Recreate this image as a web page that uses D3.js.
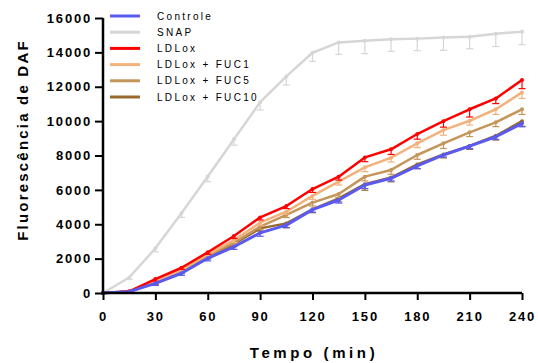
<!DOCTYPE html>
<html><head><meta charset="utf-8">
<script src="https://cdn.jsdelivr.net/npm/d3@7"></script>
<style>body{margin:0;background:#fff}svg{display:block}</style>
</head><body><svg id="c" width="538" height="363"></svg>
<script>
const times = [0,15,30,45,60,75,90,105,120,135,150,165,180,195,210,225,240];
const xTicks = [0,30,60,90,120,150,180,210,240];
const yTicks = [0,2000,4000,6000,8000,10000,12000,14000,16000];
const seriesNames = ["Controle","SNAP","LDLox","LDLox + FUC1","LDLox + FUC5","LDLox + FUC10"];
const seriesColors = ["#5a5af0","#d6d6d6","#ff0000","#f2b27c","#c6955a","#98682c"];
const controle = [0,80,560,1150,2020,2690,3500,3950,4850,5410,6280,6670,7390,8030,8550,9090,9870];
const snap = [0,900,2600,4650,6780,8950,11100,12600,13980,14580,14680,14760,14800,14870,14910,15090,15200];
const ldlox = [0,100,810,1470,2370,3320,4400,5060,6050,6770,7890,8360,9250,10000,10690,11320,12390];
const fuc1 = [0,90,680,1340,2250,3080,4090,4730,5650,6480,7310,7870,8710,9480,10020,10690,11670];
const fuc5 = [0,80,640,1300,2170,2930,3860,4540,5260,5760,6770,7160,8030,8710,9350,9930,10690];
const fuc10 = [0,70,600,1250,2100,2850,3760,4050,4870,5500,6330,6720,7480,8060,8560,9150,10000];
const errControle = [0,60,120,120,150,150,200,150,150,180,200,150,150,120,150,150,200];
const errSnap = [0,100,200,250,300,350,450,500,500,700,750,700,700,750,700,750,750];
const errLdlox = [0,60,120,100,120,150,150,150,200,200,250,300,300,350,450,300,500];
const errFuc1 = [0,60,120,100,120,150,150,150,200,200,250,250,250,300,250,300,350];
const errFuc5 = [0,60,100,100,120,150,150,150,200,200,250,250,250,300,250,250,300];
const errFuc10 = [0,60,100,100,120,150,150,250,200,200,350,250,250,200,200,250,300];

const series = [
  {name:seriesNames[1],color:seriesColors[1],v:snap,e:errSnap,w:2.5},
  {name:seriesNames[5],color:seriesColors[5],v:fuc10,e:errFuc10,w:2.5},
  {name:seriesNames[4],color:seriesColors[4],v:fuc5,e:errFuc5,w:2.5},
  {name:seriesNames[3],color:seriesColors[3],v:fuc1,e:errFuc1,w:2.5},
  {name:seriesNames[2],color:seriesColors[2],v:ldlox,e:errLdlox,w:2.5},
  {name:seriesNames[0],color:seriesColors[0],v:controle,e:errControle,w:3}
];

const svg = d3.select("#c");
const x = d3.scaleLinear().domain([0,240]).range([103,522]);
const y = d3.scaleLinear().domain([0,16000]).range([293,18]);
const font = "Arial, 'Liberation Sans', sans-serif";

// series
const line = d3.line().x((d,i)=>x(times[i])).y(d=>y(d));
series.forEach(s=>{
  const g = svg.append("g");
  s.v.forEach((v,i)=>{
    if(!s.e[i]) return;
    const px=x(times[i]), py=y(v), pe=y(v-s.e[i]);
    g.append("line").attr("x1",px).attr("x2",px).attr("y1",py).attr("y2",pe).attr("stroke",s.color).attr("stroke-width",1.2);
    g.append("line").attr("x1",px-3.5).attr("x2",px+3.5).attr("y1",pe).attr("y2",pe).attr("stroke",s.color).attr("stroke-width",1.2);
  });
  g.append("path").datum(s.v).attr("d",line).attr("fill","none").attr("stroke",s.color).attr("stroke-width",s.w).attr("stroke-linejoin","round");
  g.selectAll("circle").data(s.v).join("circle").attr("cx",(d,i)=>x(times[i])).attr("cy",d=>y(d)).attr("r",2).attr("fill",s.color);
});

// axes
const xAxis = svg.append("g").attr("transform","translate(0,293)")
  .call(d3.axisBottom(x).tickValues(xTicks).tickSize(7).tickPadding(12).tickFormat(d3.format("d")));
const yAxis = svg.append("g").attr("transform","translate(103,0)")
  .call(d3.axisLeft(y).tickValues(yTicks).tickSize(8).tickPadding(4).tickFormat(d3.format("d")));
[xAxis,yAxis].forEach(a=>{
  a.select(".domain").attr("stroke","#000").attr("stroke-width",2.5);
  a.selectAll(".tick line").attr("stroke","#000").attr("stroke-width",2);
  a.selectAll(".tick text").attr("font-family",font).attr("font-weight","bold").attr("font-size",13).attr("fill","#000").style("letter-spacing","1.8px");
});
yAxis.select(".domain").attr("d","M0,18V293");
xAxis.select(".domain").attr("d","M103,0H522");
yAxis.selectAll(".tick text").attr("dx","1px");

svg.append("text").attr("x",314).attr("y",358).attr("text-anchor","middle")
  .attr("font-family",font).attr("font-weight","bold").attr("font-size",15).style("letter-spacing","3.6px").text("Tempo (min)");
svg.append("text").attr("transform","translate(28,140) rotate(-90)").attr("text-anchor","middle")
  .attr("font-family",font).attr("font-weight","bold").attr("font-size",15).style("letter-spacing","2.2px").text("Fluorescência de DAF");

// legend
const lg = svg.append("g");
seriesNames.forEach((n,i)=>{
  const yy = 16 + i*16.2;
  lg.append("line").attr("x1",110).attr("x2",140).attr("y1",yy).attr("y2",yy).attr("stroke",seriesColors[i]).attr("stroke-width",3);
  lg.append("text").attr("x",157).attr("y",yy+3.5).attr("font-family",font).attr("font-size",10).style("letter-spacing","2.3px").attr("fill","#000").text(n);
});
</script></body></html>
